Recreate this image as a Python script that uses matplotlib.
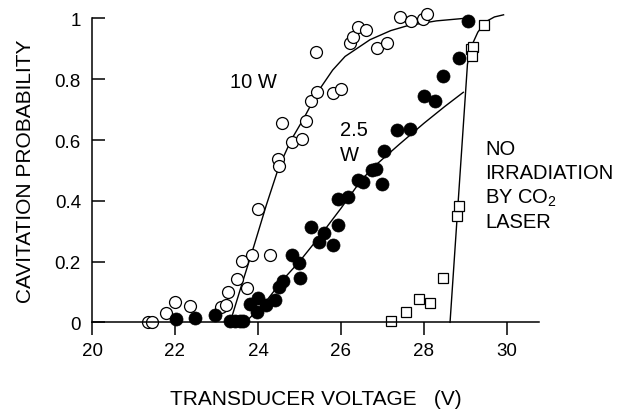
import matplotlib
matplotlib.use("Agg")
import matplotlib.pyplot as plt
from matplotlib.ticker import FormatStrFormatter

plt.rcParams['font.family'] = ['Liberation Sans', 'DejaVu Sans']
plt.rcParams['mathtext.fontset'] = 'custom'
plt.rcParams['mathtext.rm'] = 'Liberation Sans'
plt.rcParams['mathtext.default'] = 'regular'

# 10 W (open circles)
v_10w = [21.36, 21.44, 21.78, 22.0, 22.36, 23.12, 23.22, 23.29, 23.49, 23.61,
         23.73, 23.85, 24.01, 24.29, 24.49, 24.51, 24.59, 24.81, 25.05, 25.17,
         25.29, 25.43, 25.41, 25.82, 26.01, 26.22, 26.28, 26.42, 26.60, 26.87,
         27.12, 27.42, 27.68, 27.98, 28.07]
p_10w = [0.0, 0.0, 0.03, 0.066, 0.053, 0.05, 0.057, 0.10, 0.142, 0.203,
         0.112, 0.222, 0.373, 0.222, 0.537, 0.513, 0.656, 0.594, 0.603, 0.664,
         0.729, 0.757, 0.889, 0.754, 0.768, 0.918, 0.940, 0.973, 0.962, 0.903,
         0.918, 1.004, 0.992, 0.998, 1.015]

# 2.5 W (filled circles)
v_25w = [22.02, 22.48, 22.96, 23.33, 23.45, 23.57, 23.65, 23.81, 23.97, 24.01,
         24.19, 24.41, 24.50, 24.61, 24.81, 25.0, 25.01, 25.27, 25.47, 25.60,
         25.81, 25.93, 25.94, 26.17, 26.42, 26.53, 26.74, 26.85, 26.98, 27.05,
         27.34, 27.66, 28.01, 28.26, 28.47, 28.85, 29.06]
p_25w = [0.012, 0.014, 0.024, 0.005, 0.005, 0.005, 0.005, 0.06, 0.033, 0.08,
         0.058, 0.074, 0.115, 0.137, 0.222, 0.195, 0.145, 0.313, 0.266, 0.293,
         0.253, 0.32, 0.405, 0.413, 0.47, 0.463, 0.502, 0.503, 0.454, 0.565,
         0.634, 0.636, 0.745, 0.729, 0.81, 0.869, 0.99]

# no irradiation (squares)
v_none = [27.2, 27.58, 27.88, 28.14, 28.45, 28.79, 28.85, 29.13, 29.18, 29.15, 29.46]
p_none = [0.005, 0.033, 0.077, 0.064, 0.145, 0.349, 0.384, 0.90, 0.905, 0.878, 0.98]

# fitted curves
fit_10w_v = [23.33, 23.6, 23.9, 24.2, 24.5, 24.8, 25.1, 25.45, 25.8, 26.1,
             26.7, 27.2, 27.6, 28.3, 28.95]
fit_10w_p = [0.0, 0.12, 0.25, 0.385, 0.51, 0.6, 0.67, 0.76, 0.83, 0.875,
             0.93, 0.96, 0.976, 0.992, 1.0]
fit_25w_v = [23.7, 24.2, 24.6, 25.0, 25.5, 26.0, 26.5, 26.86, 27.4, 28.0, 28.5, 28.95]
fit_25w_p = [0.0, 0.07, 0.14, 0.2, 0.285, 0.375, 0.47, 0.52, 0.585, 0.655, 0.71, 0.757]
fit_none_v = [28.63, 29.05, 29.15, 29.3, 29.5, 29.7, 29.92]
fit_none_p = [0.0, 0.85, 0.91, 0.955, 0.99, 1.005, 1.012]

fig = plt.figure(figsize=(6.28, 4.14), dpi=100)
ax = fig.add_axes([0.1465, 0.219, 0.7115, 0.734])

ax.plot(fit_10w_v, fit_10w_p, color='black', lw=1.0, clip_on=False)
ax.plot(fit_25w_v, fit_25w_p, color='black', lw=1.0, clip_on=False)
ax.plot(fit_none_v, fit_none_p, color='black', lw=1.0, clip_on=False)

ax.plot(v_10w, p_10w, 'o', ms=8.6, mfc='white', mec='black', mew=0.9,
        linestyle='none', clip_on=False)
ax.plot(v_25w, p_25w, 'o', ms=9.4, mfc='black', mec='black', mew=0.5,
        linestyle='none', clip_on=False)
ax.plot(v_none, p_none, 's', ms=6.8, mfc='white', mec='black', mew=0.9,
        linestyle='none', clip_on=False)

ax.set_xlim(20, 30.77)
ax.set_ylim(0, 1)
ax.spines['top'].set_visible(False)
ax.spines['right'].set_visible(False)
ax.spines['left'].set_linewidth(1.1)
ax.spines['bottom'].set_linewidth(1.1)

ax.set_xticks([20, 22, 24, 26, 28, 30])
ax.set_yticks([0, 0.2, 0.4, 0.6, 0.8, 1])
ax.yaxis.set_major_formatter(FormatStrFormatter('%g'))
ax.tick_params(axis='x', direction='out', length=9.5, width=1.1, pad=5, labelsize=13.5)
ax.tick_params(axis='y', direction='in', length=9.5, width=1.1, pad=8, labelsize=13.5)

ax.set_xlabel('TRANSDUCER VOLTAGE   (V)', fontsize=15, labelpad=21)
ax.set_ylabel('CAVITATION PROBABILITY', fontsize=15, labelpad=14)

ax.text(23.33, 0.792, '10 W', fontsize=14.5, va='center', ha='left')
ax.text(25.98, 0.592, '2.5\nW', fontsize=14.5, va='center', ha='left', linespacing=1.4)
ax.text(29.47, 0.451, 'NO\nIRRADIATION\nBY CO$_2$\nLASER', fontsize=14.5,
        va='center', ha='left', linespacing=1.3)

fig.savefig('out.png', dpi=100)
